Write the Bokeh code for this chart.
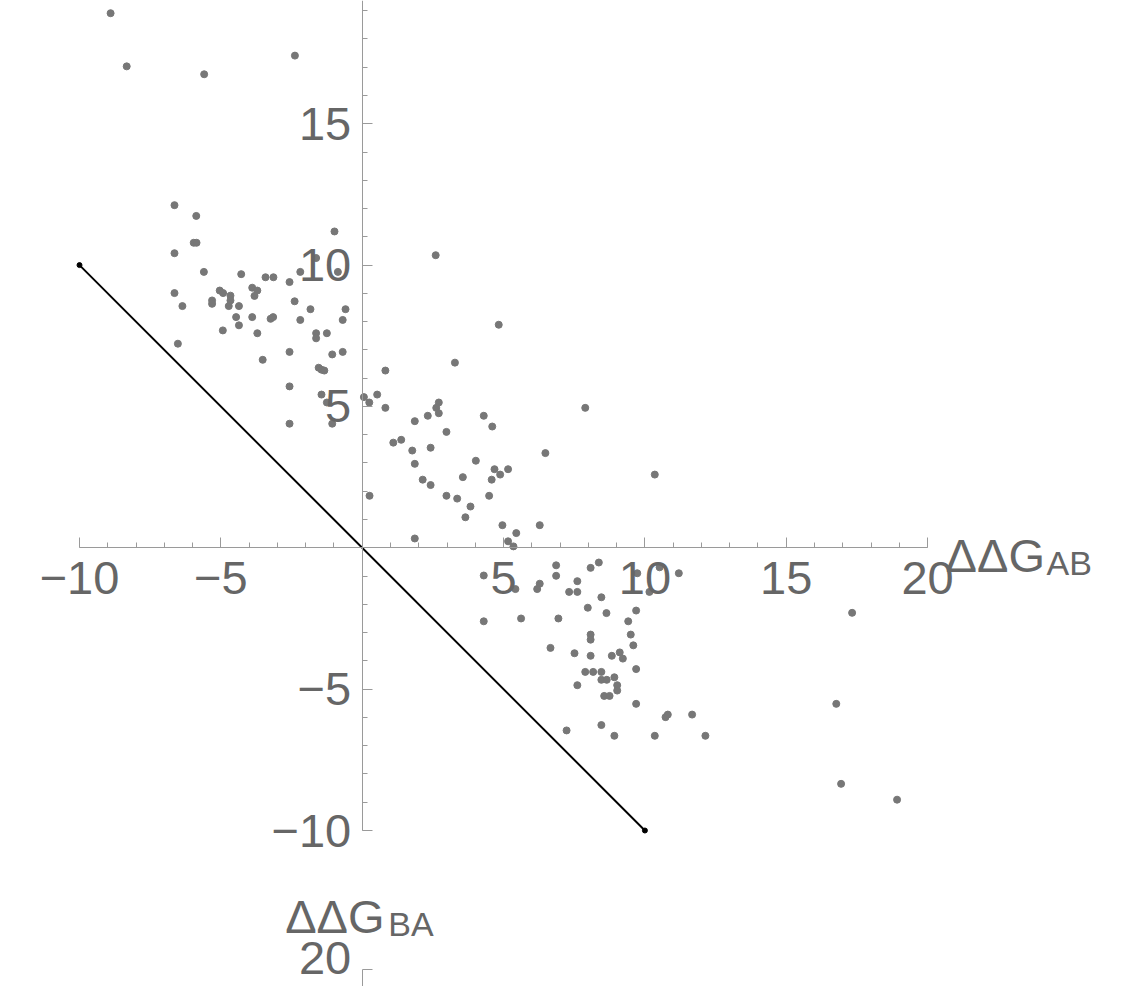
from bokeh.plotting import figure
from bokeh.models import LinearAxis, FixedTicker, Range1d, ColumnDataSource
from bokeh.core.properties import value
from bokeh.embed import file_html
from bokeh.resources import INLINE

# ---------------- data ----------------
ddg_ab = [
    -8.90, -8.33, -5.59, -2.38,
    -6.64, -5.87, -5.96, -5.86, -6.64, -5.60, -4.28, -3.42, -3.14, -2.57, -2.19, -0.98, -1.63, -0.86,
    -6.64, -6.36, -5.04, -4.92, -5.31, -5.31, -4.66, -4.66, -4.72, -4.36, -3.89, -3.71, -3.81, -2.39,
    -1.83, -0.59, -4.46, -3.89, -3.24, -3.15, -2.19, -0.69, -4.93, -4.36, -3.71, -1.63, -1.63, -1.25,
    -6.52, -2.57, -1.06, -0.69, -3.52, -1.54, -1.44, -1.34, -2.57, -1.44, -1.25, 0.06, 0.25, 0.53,
    -2.57, -1.06,
    3.28, 0.82, 0.82, 1.86, 2.32, 2.71, 2.62, 2.71, 4.30, 4.60, 2.98, 1.10, 1.38, 1.77, 2.42, 6.48,
    4.02, 1.86, 2.14, 2.42, 3.56, 4.68, 4.88, 5.16, 4.58, 0.26, 2.98, 3.36, 4.49, 3.83, 3.65, 4.96,
    5.45, 5.16, 5.35, 6.28, 1.86, 7.89, 10.35, 2.60, 4.83,
    4.30, 6.86, 6.86, 8.08, 8.37, 10.52, 11.20, 9.73, 5.42, 6.28, 6.19, 7.61, 7.32, 7.61, 8.46, 10.16,
    7.98, 8.64, 9.69, 9.41, 4.30, 5.62, 6.94, 8.08, 8.08, 9.50, 9.59, 6.66, 7.51, 8.08, 8.83, 9.11,
    9.22, 9.69, 7.89, 8.17, 8.46, 8.46, 8.65, 8.92, 9.02, 9.02, 7.61, 8.56, 8.75, 9.69, 10.73, 10.81,
    11.67, 7.23, 8.46, 8.92, 10.35, 12.14,
    17.33, 16.77, 16.94, 18.92,
]
ddg_ba = [
    18.91, 17.03, 16.75, 17.41,
    12.12, 11.74, 10.79, 10.79, 10.42, 9.76, 9.68, 9.57, 9.57, 9.40, 9.76, 11.19, 10.25, 9.76,
    9.01, 8.55, 9.10, 9.01, 8.75, 8.63, 8.92, 8.75, 8.55, 8.55, 9.20, 9.10, 8.91, 8.72,
    8.44, 8.44, 8.16, 8.16, 8.10, 8.16, 8.06, 8.06, 7.69, 7.87, 7.59, 7.59, 7.41, 7.59,
    7.22, 6.93, 6.84, 6.93, 6.65, 6.37, 6.30, 6.27, 5.71, 5.42, 5.14, 5.33, 5.14, 5.42,
    4.39, 4.39,
    6.55, 6.27, 4.95, 4.48, 4.67, 5.14, 4.95, 4.76, 4.67, 4.29, 4.10, 3.72, 3.82, 3.44, 3.54, 3.35,
    3.08, 2.97, 2.41, 2.22, 2.50, 2.78, 2.59, 2.78, 2.41, 1.84, 1.84, 1.74, 1.84, 1.46, 1.08, 0.80,
    0.52, 0.23, 0.05, 0.80, 0.33, 4.95, 2.59, 10.35, 7.89,
    -0.98, -0.62, -0.99, -0.71, -0.52, -0.69, -0.90, -0.90, -1.46, -1.27, -1.46, -1.18, -1.56, -1.56, -1.75, -1.56,
    -2.12, -2.31, -2.22, -2.60, -2.60, -2.50, -2.50, -3.07, -3.25, -3.07, -3.45, -3.54, -3.73, -3.82, -3.82, -3.70,
    -3.92, -4.29, -4.39, -4.39, -4.39, -4.67, -4.67, -4.58, -4.86, -5.05, -4.86, -5.24, -5.24, -5.52, -5.99, -5.90,
    -5.90, -6.46, -6.27, -6.65, -6.65, -6.65,
    -2.30, -5.52, -8.35, -8.91,
]
diag_x = [-10, 10]
diag_y = [10, -10]

major_ticks = [-10, -5, 5, 10, 15, 20]
minor_ticks = [v for v in range(-10, 21) if v != 0]
tick_labels = {-10: "\u221210", -5: "\u22125", 5: "5", 10: "10", 15: "15", 20: "20"}
x_title, x_sub = "\u0394\u0394G", "AB"
y_title, y_sub = "\u0394\u0394G", "BA"

# ---------------- layout ----------------
W, H = 1105, 986
S = 28.27              # pixels per unit
OX, OY = 361.7, 547.3  # picture position of the origin
x0 = -OX / S
y1 = OY / S
xr = Range1d(x0, x0 + W / S)
yr = Range1d(y1 - H / S, y1)
SHIFT = 987 / S        # wrapped strip at the bottom of the picture

p = figure(width=W, height=H, x_range=xr, y_range=yr, output_backend="svg",
           toolbar_location=None, x_axis_type=None, y_axis_type=None,
           min_border=0, background_fill_color="white")
p.outline_line_color = None
p.extra_y_ranges = {"wrap": Range1d(yr.start + SHIFT, yr.end + SHIFT)}

FONT = "Liberation Sans"
AX = "#9a9a9a"
TXT = "#666666"


def style(ax):
    ax.axis_line_color = AX
    ax.major_tick_line_color = AX
    ax.minor_tick_line_color = AX
    ax.major_tick_in = 10
    ax.major_tick_out = 0
    ax.minor_tick_in = 5
    ax.minor_tick_out = 0
    ax.major_label_text_font = FONT
    ax.major_label_text_font_size = "47px"
    ax.major_label_text_color = TXT
    ax.major_label_standoff = 14
    ax.major_label_overrides = tick_labels


xa = LinearAxis(fixed_location=0, ticker=FixedTicker(ticks=major_ticks, minor_ticks=minor_ticks),
                bounds=(-10, 20))
style(xa)
p.add_layout(xa, "below")

ya = LinearAxis(fixed_location=0, ticker=FixedTicker(ticks=major_ticks, minor_ticks=minor_ticks),
                bounds=(-10, yr.end))
style(ya)
ya.major_label_standoff = 11
p.add_layout(ya, "left")

yw = LinearAxis(fixed_location=0, y_range_name="wrap",
                ticker=FixedTicker(ticks=[20], minor_ticks=[19]), bounds=(18, 20))
style(yw)
yw.major_label_overrides = {20: ""}
yw.major_label_text_font_size = "0px"
p.add_layout(yw, "left")

# ---------------- marks ----------------
src = ColumnDataSource(dict(x=ddg_ab, y=ddg_ba))
p.scatter("x", "y", source=src, size=7, color="#777777")
p.line(diag_x, diag_y, line_color="black", line_width=2)
p.scatter(diag_x, diag_y, size=5, color="black")

# tick label of the wrapped strip, kept inside the picture
p.text(x=[0], y=[20], text=[tick_labels[20]], x_offset=-11, y_offset=5,
       text_font=value(FONT), text_font_size="47px", text_color=TXT,
       text_align="right", text_baseline="bottom", y_range_name="wrap")

# axis titles
p.text(x=[20], y=[0], text=[x_title], x_offset=18, y_offset=8,
       text_font=value(FONT), text_font_size="47px", text_color=TXT,
       text_align="left", text_baseline="alphabetic")
p.text(x=[20], y=[0], text=[x_sub], x_offset=119, y_offset=15,
       text_font=value(FONT), text_font_size="34px", text_color=TXT,
       text_align="left", text_baseline="alphabetic")
p.text(x=[0], y=[20], text=[y_title], x_offset=-77, y_offset=-53,
       text_font=value(FONT), text_font_size="47px", text_color=TXT,
       text_align="left", text_baseline="alphabetic", y_range_name="wrap")
p.text(x=[0], y=[20], text=[y_sub], x_offset=26, y_offset=-45,
       text_font=value(FONT), text_font_size="34px", text_color=TXT,
       text_align="left", text_baseline="alphabetic", y_range_name="wrap")

open("out.html", "w").write(file_html(p, INLINE))
